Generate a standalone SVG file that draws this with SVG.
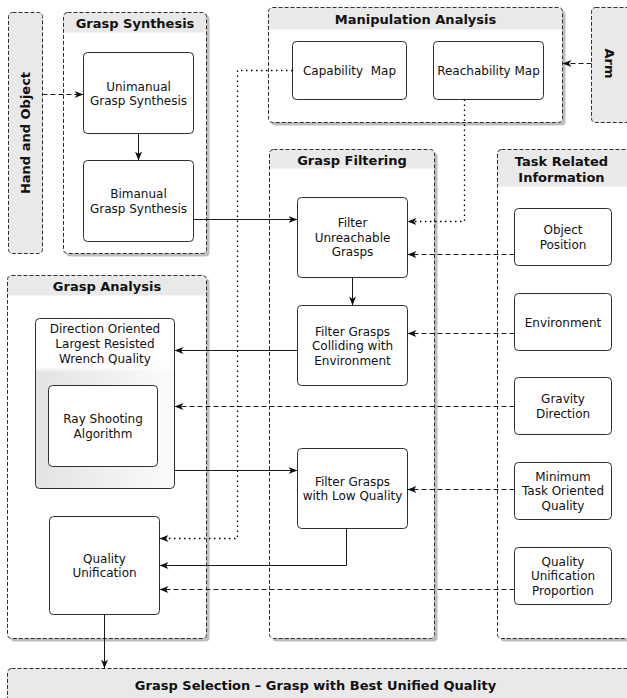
<svg xmlns="http://www.w3.org/2000/svg" width="627" height="698" viewBox="0 0 627 698">
<style>
.cont{fill:none;stroke:#2e2e2e;stroke-width:1;stroke-dasharray:4,2}
.body{fill:#ffffff}
.band{fill:#e9e9e9}
.shadow{fill:#bdbdbd}
.node{fill:#ffffff;stroke:#2e2e2e;stroke-width:1}
.title{font-family:"DejaVu Sans",Verdana,sans-serif;font-size:13px;font-weight:bold;fill:#111;text-anchor:middle}
.txt{font-family:"DejaVu Sans",Verdana,sans-serif;font-size:12px;fill:#111;text-anchor:middle}
.c{fill:none;stroke:#1a1a1a;stroke-width:1}
.dash{stroke-dasharray:5,3}
.dot{stroke-dasharray:1.5,3.5;stroke:#000;stroke-width:1.3}
</style>
<defs>
<marker id="arr" markerUnits="userSpaceOnUse" markerWidth="10" markerHeight="8" refX="9" refY="3.5" orient="auto">
<path d="M0,0 L9,3.5 L0,7 L2.5,3.5 Z" fill="#111"/>
</marker>
<linearGradient id="dgrad" x1="0" y1="0" x2="1" y2="0">
<stop offset="0" stop-color="#e3e3e3"/>
<stop offset="1" stop-color="#fbfbfb"/>
</linearGradient>
<linearGradient id="vfade" x1="0" y1="0" x2="0" y2="1">
<stop offset="0" stop-color="#fff" stop-opacity="1"/>
<stop offset="1" stop-color="#fff" stop-opacity="0"/>
</linearGradient>
</defs>
<g transform="translate(0.5,0.5)">
<!-- Containers -->
<g id="hand-and-object">
<rect x="8" y="12" width="34" height="241" rx="4" class="band"/>
<rect x="8" y="12" width="34" height="241" rx="4" class="cont"/>
<text class="title" transform="translate(29.5,132.5) rotate(-90)">Hand and Object</text>
</g>

<g id="grasp-synthesis">
<rect x="66" y="15" width="143" height="241" rx="4" class="shadow"/>
<rect x="63" y="12" width="143" height="241" rx="4" class="body"/>
<path d="M63,32 V16 Q63,12 67,12 H202 Q206,12 206,16 V32 Z" class="band"/>
<rect x="63" y="12" width="143" height="241" rx="4" class="cont"/>
<text class="title" x="134.5" y="27">Grasp Synthesis</text>
</g>

<g id="manipulation-analysis">
<rect x="271" y="10" width="294" height="115" rx="4" class="shadow"/>
<rect x="268" y="7" width="294" height="115" rx="4" class="body"/>
<path d="M268,29 V11 Q268,7 272,7 H558 Q562,7 562,11 V29 Z" class="band"/>
<rect x="268" y="7" width="294" height="115" rx="4" class="cont"/>
<text class="title" x="415" y="23">Manipulation Analysis</text>
</g>

<g id="arm">
<rect x="591" y="7" width="40" height="115" rx="4" class="band"/>
<rect x="591" y="7" width="40" height="115" rx="4" class="cont"/>
<text class="title" transform="translate(604.5,63) rotate(90)">Arm</text>
</g>

<g id="grasp-filtering">
<rect x="272" y="152" width="165" height="489" rx="4" class="shadow"/>
<rect x="269" y="149" width="165" height="489" rx="4" class="body"/>
<path d="M269,168 V153 Q269,149 273,149 H430 Q434,149 434,153 V168 Z" class="band"/>
<rect x="269" y="149" width="165" height="489" rx="4" class="cont"/>
<text class="title" x="351.5" y="164">Grasp Filtering</text>
</g>

<g id="task-related-information">
<rect x="500" y="152" width="135" height="489" rx="4" class="shadow"/>
<rect x="497" y="149" width="135" height="489" rx="4" class="body"/>
<path d="M497,186 V153 Q497,149 501,149 H628 Q632,149 632,153 V186 Z" class="band"/>
<rect x="497" y="149" width="135" height="489" rx="4" class="cont"/>
<text class="title" x="561" y="165">Task Related</text>
<text class="title" x="561" y="181">Information</text>
</g>

<g id="grasp-analysis">
<rect x="10" y="278" width="199" height="363" rx="4" class="shadow"/>
<rect x="7" y="275" width="199" height="363" rx="4" class="body"/>
<path d="M7,295 V279 Q7,275 11,275 H202 Q206,275 206,279 V295 Z" class="band"/>
<rect x="7" y="275" width="199" height="363" rx="4" class="cont"/>
<text class="title" x="106.5" y="290">Grasp Analysis</text>
</g>

<g id="grasp-selection">
<rect x="7" y="668" width="626" height="40" rx="4" class="band"/>
<rect x="7" y="668" width="626" height="40" rx="4" class="cont"/>
<text class="title" x="315" y="689">Grasp Selection – Grasp with Best Unified Quality</text>
</g>

<!-- Nodes -->
<g id="unimanual">
<rect x="83" y="52" width="110" height="81" rx="4" class="node"/>
<text class="txt" x="138" y="90">Unimanual</text>
<text class="txt" x="138" y="104.5">Grasp Synthesis</text>
</g>

<g id="bimanual">
<rect x="83" y="160" width="110" height="81" rx="4" class="node"/>
<text class="txt" x="138" y="197.5">Bimanual</text>
<text class="txt" x="138" y="212">Grasp Synthesis</text>
</g>

<g id="capability-map">
<rect x="292" y="41" width="114" height="58" rx="4" class="node"/>
<text class="txt" x="349" y="74.5" xml:space="preserve">Capability  Map</text>
</g>

<g id="reachability-map">
<rect x="433" y="41" width="110" height="58" rx="4" class="node"/>
<text class="txt" x="488" y="74.5">Reachability Map</text>
</g>

<g id="filter-unreachable">
<rect x="297" y="197" width="110" height="80" rx="4" class="node"/>
<text class="txt" x="352" y="226.5">Filter</text>
<text class="txt" x="352" y="241">Unreachable</text>
<text class="txt" x="352" y="255.5">Grasps</text>
</g>

<g id="filter-colliding">
<rect x="297" y="305" width="110" height="80" rx="4" class="node"/>
<text class="txt" x="352" y="335">Filter Grasps</text>
<text class="txt" x="352" y="349.5">Colliding with</text>
<text class="txt" x="352" y="364">Environment</text>
</g>

<g id="filter-low-quality">
<rect x="297" y="448" width="110" height="80" rx="4" class="node"/>
<text class="txt" x="352" y="485">Filter Grasps</text>
<text class="txt" x="352" y="499.5">with Low Quality</text>
</g>

<g id="object-position">
<rect x="514" y="208" width="97" height="57" rx="4" class="node"/>
<text class="txt" x="562.5" y="233.5">Object</text>
<text class="txt" x="562.5" y="248">Position</text>
</g>

<g id="environment">
<rect x="514" y="293" width="97" height="57" rx="4" class="node"/>
<text class="txt" x="562.5" y="326">Environment</text>
</g>

<g id="gravity-direction">
<rect x="514" y="377" width="97" height="57" rx="4" class="node"/>
<text class="txt" x="562.5" y="402.5">Gravity</text>
<text class="txt" x="562.5" y="417">Direction</text>
</g>

<g id="minimum-quality">
<rect x="514" y="462" width="97" height="57" rx="4" class="node"/>
<text class="txt" x="562.5" y="480">Minimum</text>
<text class="txt" x="562.5" y="494.5">Task Oriented</text>
<text class="txt" x="562.5" y="509">Quality</text>
</g>

<g id="quality-unification-proportion">
<rect x="514" y="547" width="97" height="57" rx="4" class="node"/>
<text class="txt" x="562.5" y="565">Quality</text>
<text class="txt" x="562.5" y="579.5">Unification</text>
<text class="txt" x="562.5" y="594">Proportion</text>
</g>

<g id="direction-oriented-lrwq">
<rect x="35" y="318" width="139" height="170" rx="4" fill="#ffffff"/>
<path d="M35,367 H174 V484 Q174,488 170,488 H39 Q35,488 35,484 Z" fill="url(#dgrad)"/>
<rect x="35" y="366" width="139" height="6" fill="url(#vfade)"/>
<rect x="35" y="318" width="139" height="170" rx="4" fill="none" stroke="#2e2e2e" stroke-width="1"/>
<text class="txt" x="104.5" y="332">Direction Oriented</text>
<text class="txt" x="104.5" y="347">Largest Resisted</text>
<text class="txt" x="104.5" y="362">Wrench Quality</text>
</g>

<g id="ray-shooting">
<rect x="48" y="385" width="109" height="81" rx="4" class="node"/>
<text class="txt" x="102.5" y="422.5">Ray Shooting</text>
<text class="txt" x="102.5" y="437">Algorithm</text>
</g>

<g id="quality-unification">
<rect x="49" y="516" width="110" height="98" rx="4" class="node"/>
<text class="txt" x="104" y="562">Quality</text>
<text class="txt" x="104" y="576.5">Unification</text>
</g>

<!-- Connectors -->
<g id="connectors">
<path class="c dash" d="M42,94 H83" marker-end="url(#arr)"/>
<path class="c" d="M138,133 V160" marker-end="url(#arr)"/>
<path class="c" d="M193,219 H297" marker-end="url(#arr)"/>
<path class="c dash" d="M591,63 H562" marker-end="url(#arr)"/>
<path class="c dot" d="M464,99 V221 H407" marker-end="url(#arr)"/>
<path class="c dash" d="M514,254 H407" marker-end="url(#arr)"/>
<path class="c" d="M352,277 V305" marker-end="url(#arr)"/>
<path class="c dash" d="M514,333 H407" marker-end="url(#arr)"/>
<path class="c" d="M297,350 H174" marker-end="url(#arr)"/>
<path class="c dash" d="M514,406 H174" marker-end="url(#arr)"/>
<path class="c" d="M174,470 H297" marker-end="url(#arr)"/>
<path class="c dash" d="M514,489 H407" marker-end="url(#arr)"/>
<path class="c" d="M346,528 V565 H159" marker-end="url(#arr)"/>
<path class="c dot" d="M292,70 H237 V538 H159" marker-end="url(#arr)"/>
<path class="c dash" d="M514,589 H159" marker-end="url(#arr)"/>
<path class="c" d="M104,614 V668" marker-end="url(#arr)"/>
</g>
</g>
</svg>
